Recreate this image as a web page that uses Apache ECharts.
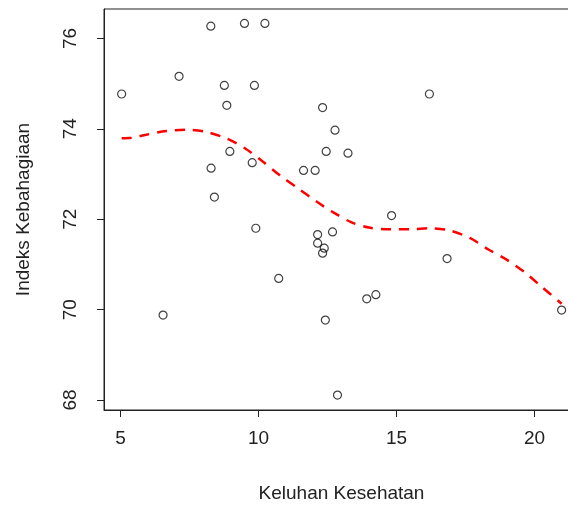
<!DOCTYPE html>
<html>
<head>
<meta charset="utf-8">
<script src="https://cdn.jsdelivr.net/npm/echarts@6/dist/echarts.min.js"></script>
<style>html,body{margin:0;padding:0;background:#fff;overflow:hidden;}#c{width:568px;height:507px;}</style>
</head>
<body>
<div id="c"></div>
<script>
// Keluhan Kesehatan (x) vs Indeks Kebahagiaan (y)
var keluhan = [5.04, 7.12, 8.27, 9.49, 10.23, 8.76, 9.85, 8.85, 12.32, 12.77, 8.96, 8.28, 9.77, 12.45, 13.24, 11.63, 12.05, 8.40, 16.19, 9.90, 12.14, 12.68, 12.14, 12.38, 12.32, 10.73, 6.54, 12.42, 12.86, 14.82, 16.83, 13.92, 14.25, 20.98];
var indeks  = [74.77, 75.16, 76.27, 76.33, 76.33, 74.96, 74.96, 74.52, 74.47, 73.97, 73.50, 73.13, 73.25, 73.50, 73.46, 73.08, 73.08, 72.49, 74.77, 71.80, 71.66, 71.72, 71.47, 71.36, 71.25, 70.69, 69.88, 69.77, 68.11, 72.08, 71.13, 70.24, 70.33, 69.99];
// loess fit curve
var fitX = [5.04, 5.39, 5.93, 6.66, 7.41, 8.11, 8.86, 9.53, 10.14, 10.77, 11.44, 12.10, 12.71, 13.37, 14.04, 14.83, 15.49, 16.22, 16.94, 17.67, 18.33, 19.00, 19.61, 20.27, 20.98];
var fitY = [73.79, 73.80, 73.87, 73.95, 73.98, 73.93, 73.78, 73.56, 73.28, 72.97, 72.68, 72.39, 72.15, 71.93, 71.81, 71.78, 71.78, 71.80, 71.75, 71.58, 71.33, 71.10, 70.84, 70.50, 70.13];
var xTicks = [5, 10, 15, 20];
var yTicks = [68, 70, 72, 74, 76];

var pts = keluhan.map(function (v, i) { return [v, indeks[i]]; });
var fit = fitX.map(function (v, i) { return [v, fitY[i]]; });

var chart = echarts.init(document.getElementById('c'), null, {renderer: 'canvas'});
var font = 'Liberation Sans, Arial, sans-serif';
chart.setOption({
  animation: false,
  backgroundColor: '#fff',
  grid: {left: 104, top: 9, width: 475, height: 401, outerBoundsMode: 'none', containLabel: false,
         show: true, borderColor: '#222', borderWidth: 1, backgroundColor: 'transparent'},
  xAxis: {
    type: 'value', min: 4.40, max: 21.61,
    name: 'Keluhan Kesehatan', nameLocation: 'middle', nameGap: 74,
    nameTextStyle: {fontFamily: font, fontSize: 19, color: '#222'},
    axisLine: {show: true, onZero: false, lineStyle: {color: '#222', width: 1}},
    axisTick: {show: true, length: 7, inside: false, customValues: xTicks, lineStyle: {color: '#222'}},
    axisLabel: {show: true, margin: 19, customValues: xTicks, fontFamily: font, fontSize: 19, color: '#222'},
    splitLine: {show: false}
  },
  yAxis: {
    type: 'value', min: 67.78, max: 76.65,
    name: 'Indeks Kebahagiaan', nameLocation: 'middle', nameGap: 71,
    nameTextStyle: {fontFamily: font, fontSize: 19, color: '#222'},
    axisLine: {show: true, onZero: false, lineStyle: {color: '#222', width: 1}},
    axisTick: {show: true, length: 7, inside: false, customValues: yTicks, lineStyle: {color: '#222'}},
    axisLabel: {show: true, rotate: 90, margin: 24, customValues: yTicks, fontFamily: font, fontSize: 19, color: '#222'},
    splitLine: {show: false}
  },
  series: [
    {
      type: 'scatter', data: pts, symbol: 'circle', symbolSize: 8,
      itemStyle: {color: 'rgba(255,255,255,0)', borderColor: '#111', borderWidth: 1.2},
      z: 3
    },
    {
      type: 'line', data: fit, smooth: 0.3, showSymbol: false, symbol: 'none',
      lineStyle: {color: '#ff0000', width: 2.5, type: [10, 8], cap: 'butt'},
      z: 2
    }
  ]
});
</script>
</body>
</html>
